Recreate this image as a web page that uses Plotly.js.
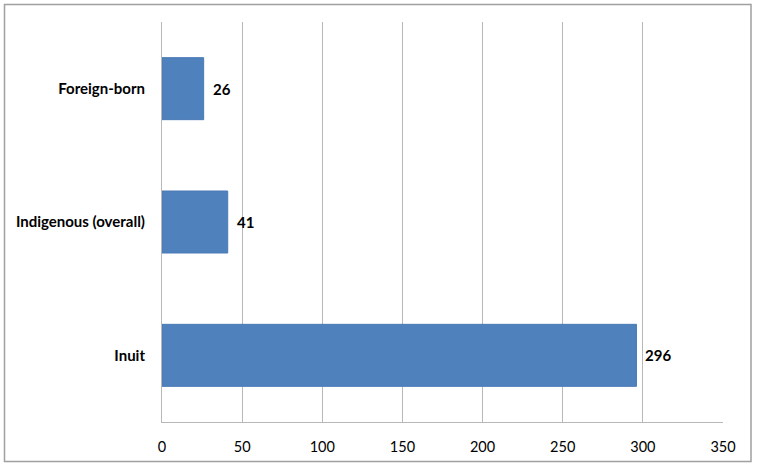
<!DOCTYPE html>
<html>
<head>
<meta charset="utf-8">
<script src="https://cdn.plot.ly/plotly-3.0.1.min.js"></script>
<style>
html,body{margin:0;padding:0;background:#fff;}
#chart{width:757px;height:467px;}
</style>
</head>
<body>
<div id="chart"></div>
<script>
const categories = ["Inuit", "Indigenous (overall)", "Foreign-born"];
const values = [296, 41, 26];
const tickVals = [0, 50, 100, 150, 200, 250, 300, 350];

const M = {l: 162, r: 34, t: 22, b: 45};
const W = 757, H = 467;
const pw = W - M.l - M.r, ph = H - M.t - M.b;
const px = v => (v - M.l) / pw;
const py = v => 1 - (v - M.t) / ph;

const fontFam = "Lato, 'Open Sans', sans-serif";

const trace = {
  type: "bar",
  orientation: "h",
  y: categories,
  x: values,
  marker: {color: "#4F81BD", line: {color: "#4A7AB5", width: 1}},
  hoverinfo: "none"
};

const annotations = values.map((v, i) => ({
  x: v, y: categories[i], xref: "x", yref: "y",
  text: "<b>" + v + "</b>", showarrow: false,
  xanchor: "left", xshift: 7,
  font: {family: fontFam, size: 15, color: "#000"}
}));

const layout = {
  width: W, height: H,
  margin: M,
  paper_bgcolor: "#fff",
  plot_bgcolor: "#fff",
  showlegend: false,
  bargap: 0.535,
  xaxis: {
    range: [0, 350],
    tickvals: tickVals,
    ticktext: tickVals.map(String),
    showgrid: true, gridcolor: "#B8B8B8", gridwidth: 1,
    zeroline: false,
    showline: true, linecolor: "#B8B8B8", linewidth: 1,
    ticks: "", ticklabelstandoff: 12,
    tickfont: {family: fontFam, size: 14.5, color: "#000"},
    fixedrange: true
  },
  yaxis: {
    showgrid: false, zeroline: false,
    showline: true, linecolor: "#B8B8B8", linewidth: 1,
    ticks: "", ticklabelstandoff: 13,
    tickfont: {family: fontFam, size: 15, color: "#000", weight: "bold"},
    fixedrange: true
  },
  annotations: annotations,
  shapes: [{
    type: "rect", xref: "paper", yref: "paper",
    x0: px(4.5), x1: px(751), y0: py(4.5), y1: py(461.5),
    line: {color: "#A0A0A0", width: 1.5}, layer: "below"
  }]
};

Plotly.newPlot("chart", [trace], layout, {displayModeBar: false, staticPlot: true});
</script>
</body>
</html>
